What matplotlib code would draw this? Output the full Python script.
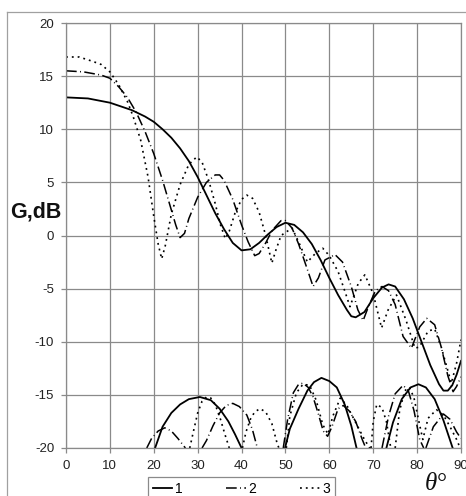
import numpy as np
import matplotlib
matplotlib.use('Agg')
import matplotlib.pyplot as plt
from matplotlib.lines import Line2D

plt.rcParams['font.family'] = ['Liberation Sans', 'DejaVu Sans']
plt.rcParams['axes.unicode_minus'] = False

# main lobes, curve 1 (solid)
theta_1 = [0, 5, 10, 15, 18, 20, 22, 24, 26, 28, 30, 32, 34, 36, 38, 40, 42, 44, 46, 48,
           50, 52, 54, 56, 58, 60, 62, 64, 65, 66, 68, 70, 72, 73.5, 75, 77, 79, 81, 83,
           85, 86, 87, 88, 89, 90]
g_1 = [13.0, 12.9, 12.5, 11.8, 11.2, 10.7, 10.0, 9.2, 8.2, 7.0, 5.5, 3.8, 2.1, 0.6, -0.7,
       -1.4, -1.3, -0.7, 0.1, 0.8, 1.2, 1.0, 0.3, -0.8, -2.3, -4.0, -5.6, -7.0, -7.6, -7.7,
       -7.2, -5.9, -4.9, -4.6, -4.8, -6.0, -7.8, -10.0, -12.2, -14.0, -14.6, -14.6, -14.1,
       -13.1, -11.8]

# curve 2 (dash)
theta_2 = [0, 4, 8, 10, 12, 14, 16, 18, 20, 22, 24, 25, 26, 27, 28, 30, 32, 34, 35, 36, 38,
           40, 41.5, 43, 44, 45.5, 47, 49, 50, 51.5, 53, 55, 56.3, 57.5, 59, 61.3, 63, 65,
           66.5, 67.7, 69, 70.5, 72, 73.5, 75, 76.8, 78.7, 80.6, 82.2, 84, 85.5, 87, 88.2,
           89, 90]
g_2 = [15.5, 15.4, 15.1, 14.8, 14.0, 13.0, 11.6, 9.8, 7.7, 5.2, 2.4, 1.0, -0.2, 0.2, 1.6,
       3.6, 5.0, 5.7, 5.7, 5.2, 3.4, 1.0, -0.6, -1.9, -1.7, -0.7, 0.5, 1.4, 1.4, 0.7, -0.8,
       -3.2, -4.8, -4.0, -2.3, -1.8, -2.5, -4.8, -7.0, -8.0, -6.6, -5.2, -4.8, -5.2, -6.5,
       -9.5, -10.6, -8.6, -7.8, -8.4, -10.5, -13.2, -14.7, -14.2, -13.3]

# curve 3 (dotted)
theta_3 = [0, 3, 6, 8, 10, 12, 14, 15.3, 17, 18.7, 20, 21, 21.8, 22.6, 24, 26, 28, 29.8, 31,
           32.5, 34, 35.2, 36.3, 37.2, 38.5, 40, 41.2, 42.5, 44, 45.5, 46.9, 47.8, 49, 51.5,
           53, 55, 56.8, 58.5, 60, 62, 63.5, 64.7, 66.6, 68.1, 70, 71.9, 73.4, 75.3, 77.5,
           79.5, 80.5, 82.5, 84, 85.5, 87.8, 89, 90]
g_3 = [16.8, 16.8, 16.4, 16.1, 15.4, 14.2, 12.6, 11.2, 9.0, 5.5, 1.8, -0.8, -2.2, -1.0,
       2.0, 4.8, 6.7, 7.4, 6.9, 5.2, 3.0, 1.0, -0.3, 0.4, 2.1, 3.4, 3.8, 3.5, 2.2, 0.0,
       -2.6, -1.4, 0.0, 0.7, -0.6, -2.5, -1.7, -1.2, -1.9, -3.4, -5.2, -6.7, -4.5, -3.7,
       -5.5, -8.7, -7.0, -5.6, -8.0, -10.6, -10.5, -9.0, -8.8, -10.5, -13.9, -12.0, -9.8]

# cross-polar lobes above -20 dB (nan separates lobes)
nan = np.nan
theta_1x = [20.3, 22, 24, 26, 28, 30.5, 33, 35, 37, 38.5, 40, nan,
            49.9, 51, 53, 55, 56.5, 58.2, 60, 61.7, 63.5, 65, 66.2, nan,
            73, 74.5, 76.5, 78.5, 80.3, 82, 84, 86, 88.1]
g_1x = [-20, -18.0, -16.7, -15.9, -15.4, -15.2, -15.5, -16.3, -17.5, -18.7, -20, nan,
        -20, -18.2, -16.3, -14.6, -13.8, -13.4, -13.7, -14.3, -15.9, -17.9, -20, nan,
        -20, -17.6, -15.4, -14.3, -14.0, -14.3, -15.4, -17.4, -20]

theta_2x = [18.4, 19.5, 21, 22.5, 24, 25.5, 27.2, nan,
            31, 32, 33.5, 35, 36.5, 38, 39.5, 41.2, 42.5, 43.6, nan,
            49.5, 50.5, 51.8, 53, 54, 55.2, 56.3, 57.5, 58.6, 59.6, 60.6, 62, 63.2, 64.5,
            66, 67.5, 68.3, nan,
            72, 73.5, 75, 76.8, 78, 79.3, 80.6, 81.5, nan,
            82, 83.7, 86, 87.5, 89, 90]
g_2x = [-20, -19.1, -18.4, -18.1, -18.4, -19.1, -20, nan,
        -20, -19.3, -17.9, -16.7, -16.0, -15.8, -16.1, -16.9, -18.3, -20, nan,
        -20, -17.3, -14.8, -14.0, -13.9, -14.3, -15.2, -16.8, -18.4, -18.9, -18.0, -16.3,
        -16.0, -16.5, -17.5, -19.2, -20, nan,
        -20, -17.0, -14.9, -14.1, -14.6, -16.5, -19.2, -20, nan,
        -20, -18.0, -16.8, -17.3, -18.5, -19.1]

theta_3x = [28.2, 29, 30, 31, 32, 33, 34, 35.2, 36.2, 37.2, nan,
            40.2, 41, 42, 43, 44.2, 45.5, 46.9, 48, 48.5, nan,
            50.2, 51, 52.5, 54, 55.5, 57, 58.5, 59.7, 60.8, 62.5, 64, 66, 68, 69.2, nan,
            69.5, 70, 70.8, 72, 73, 74, nan,
            75, 76, 77.2, 78.3, 79.3, 80.3, 81.3, 82.5, 84.4, 86, 87.5, 89, 89.8]
g_3x = [-20, -18.5, -16.7, -15.6, -15.2, -15.3, -15.9, -17.3, -18.7, -20, nan,
        -20, -18.5, -17.3, -16.6, -16.3, -16.6, -17.7, -19.4, -20, nan,
        -20, -17.0, -14.8, -14.0, -14.1, -15.5, -17.8, -18.7, -17.0, -15.3, -16.0, -17.6,
        -19.2, -20, nan,
        -20, -17.5, -15.9, -16.2, -17.5, -20, nan,
        -20, -16.5, -14.6, -14.3, -15.3, -17.3, -19.2, -17.2, -16.4, -16.9, -18.0, -19.2, -20]

labels = ['1', '2', '3']
styles = ['-', (0, (7, 2.2, 0.6, 2.2)), (0, (1.1, 2.4))]
widths = [1.3, 1.1, 1.2]

W, H = 466, 496
fig = plt.figure(figsize=(W / 100, H / 100), dpi=100)
ax = fig.add_axes([66 / W, 1 - 448 / H, (461 - 66) / W, (448 - 23) / H])

mains = [(theta_1, g_1), (theta_2, g_2), (theta_3, g_3)]
cross = [(theta_1x, g_1x), (theta_2x, g_2x), (theta_3x, g_3x)]
handles = []
for i in range(3):
    h, = ax.plot(mains[i][0], mains[i][1], color='black', ls=styles[i], lw=widths[i],
                 label=labels[i])
    ax.plot(cross[i][0], cross[i][1], color='black', ls=styles[i], lw=widths[i])
    handles.append(h)

ax.set_xlim(0, 90)
ax.set_ylim(-20, 20)
ax.set_xticks(np.arange(0, 91, 10))
ax.set_yticks(np.arange(-20, 21, 5))
ax.grid(True, color='#8a8a8a', lw=0.9)
ax.set_axisbelow(True)
for s in ax.spines.values():
    s.set_color('#8a8a8a')
    s.set_linewidth(0.9)
ax.tick_params(colors='#8a8a8a', labelcolor='#222222', labelsize=9.5, length=3.5,
               width=0.9)
ax.tick_params(axis='y', pad=5)
ax.tick_params(axis='x', pad=5)

fig.text(10 / W, 1 - 212 / H, 'G,dB', fontsize=15.5, fontweight='bold', ha='left',
         va='center', color='#111111')
fig.text(436 / W, 1 - 490 / H, 'θ°', fontsize=18, family=['Liberation Serif', 'DejaVu Serif'],
         style='italic', ha='center', va='baseline', color='#111111')

# outer frame
fig.add_artist(Line2D([7 / W, 7 / W], [0, 1 - 12 / H], transform=fig.transFigure,
                      color='#a0a0a0', lw=0.9))
fig.add_artist(Line2D([7 / W, 1], [1 - 12 / H, 1 - 12 / H], transform=fig.transFigure,
                      color='#a0a0a0', lw=0.9))

leg = fig.legend(handles=handles, labels=labels, ncol=3, mode='expand', loc='upper left',
                 bbox_to_anchor=(148 / W, -0.1, (335 - 148) / W, 1 - 477 / H + 0.1),
                 fancybox=False, framealpha=1, edgecolor='#8a8a8a', fontsize=10,
                 handlelength=1.4, handletextpad=0.2, borderaxespad=0, borderpad=0.35)
leg.get_frame().set_linewidth(0.9)

fig.savefig('out.png', dpi=100)
